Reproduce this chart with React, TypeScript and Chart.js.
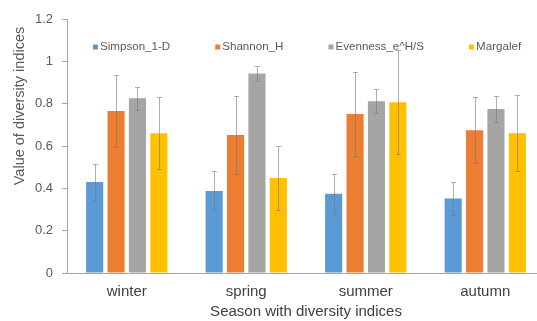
import React, { useEffect, useRef } from "react";
import { Chart, registerables } from "chart.js";

Chart.register(...registerables);

const seasons = ["winter", "spring", "summer", "autumn"];
const seriesNames = ["Simpson_1-D", "Shannon_H", "Evenness_e^H/S", "Margalef"];
const simpson = [0.43, 0.387, 0.375, 0.352];
const simpsonErr = [0.087, 0.093, 0.095, 0.08];
const shannon = [0.765, 0.652, 0.751, 0.675];
const shannonErr = [0.17, 0.184, 0.2, 0.155];
const evenness = [0.826, 0.943, 0.812, 0.775];
const evennessErr = [0.055, 0.037, 0.057, 0.06];
const margalef = [0.66, 0.449, 0.807, 0.66];
const margalefErr = [0.17, 0.153, 0.246, 0.18];
const yTicks = [0, 0.2, 0.4, 0.6, 0.8, 1, 1.2];
const yTickLabels = ["0", "0.2", "0.4", "0.6", "0.8", "1", "1.2"];
const xTitle = "Season with diversity indices";
const yTitle = "Value of diversity indices";
const colors = ["#5B9BD5", "#ED7D31", "#A5A5A5", "#FFC000"];

const FONT = "'Liberation Sans', Arial, sans-serif";

const errorBars = {
  id: "errorBars",
  afterDatasetsDraw(chart: any) {
    const ctx = chart.ctx;
    const y = chart.scales.y;
    chart.data.datasets.forEach((ds: any, i: number) => {
      const meta = chart.getDatasetMeta(i);
      meta.data.forEach((bar: any, j: number) => {
        const v = ds.data[j];
        const e = ds.errors[j];
        const x = Math.round(bar.x) + 0.5;
        const yt = Math.round(y.getPixelForValue(v + e)) + 0.5;
        const yb = Math.round(y.getPixelForValue(v - e)) + 0.5;
        ctx.save();
        ctx.strokeStyle = "rgba(120,120,120,0.6)";
        ctx.lineWidth = 1;
        ctx.beginPath();
        ctx.moveTo(x, yt);
        ctx.lineTo(x, yb);
        ctx.moveTo(x - 2.5, yt);
        ctx.lineTo(x + 2.5, yt);
        ctx.moveTo(x - 2.5, yb);
        ctx.lineTo(x + 2.5, yb);
        ctx.stroke();
        ctx.restore();
      });
    });
  },
};

const decorations = {
  id: "decorations",
  afterDraw(chart: any) {
    const ctx = chart.ctx;
    const area = chart.chartArea;
    ctx.save();
    // legend
    ctx.font = `11.6px ${FONT}`;
    ctx.textBaseline = "middle";
    ctx.textAlign = "left";
    let x = area.left + 26;
    const ly = 47;
    seriesNames.forEach((name, i) => {
      ctx.fillStyle = colors[i];
      ctx.fillRect(x, ly - 2.5, 5, 5);
      ctx.fillStyle = "#595959";
      ctx.fillText(name, x + 7, ly);
      x += 7 + ctx.measureText(name).width + 45;
    });
    // x title
    ctx.font = `15px ${FONT}`;
    ctx.fillStyle = "#404040";
    ctx.textAlign = "center";
    ctx.fillText(xTitle, (area.left + area.right) / 2, 312);
    // y title
    ctx.translate(20, 106);
    ctx.rotate(-Math.PI / 2);
    ctx.font = `14.5px ${FONT}`;
    ctx.fillStyle = "#595959";
    ctx.fillText(yTitle, 0, 0);
    ctx.restore();
  },
};

export default function App() {
  const ref = useRef<HTMLCanvasElement | null>(null);
  useEffect(() => {
    document.body.style.margin = "0";
    document.documentElement.style.overflow = "hidden";
    const canvas = ref.current!;
    const chart = new Chart(canvas, {
      type: "bar",
      data: {
        labels: seasons,
        datasets: [
          { label: seriesNames[0], data: simpson, errors: simpsonErr, backgroundColor: colors[0] } as any,
          { label: seriesNames[1], data: shannon, errors: shannonErr, backgroundColor: colors[1] } as any,
          { label: seriesNames[2], data: evenness, errors: evennessErr, backgroundColor: colors[2] } as any,
          { label: seriesNames[3], data: margalef, errors: margalefErr, backgroundColor: colors[3] } as any,
        ],
      },
      options: {
        responsive: false,
        animation: false,
        devicePixelRatio: 1,
        layout: { padding: { top: 19, left: 0, right: 0, bottom: 0 } },
        datasets: { bar: { categoryPercentage: 0.716, barPercentage: 0.8 } },
        plugins: {
          legend: { display: false },
          tooltip: { enabled: false },
          title: { display: false },
        },
        scales: {
          x: {
            grid: { display: true, drawOnChartArea: false, drawTicks: false },
            border: { display: true, color: "#a6a6a6", width: 1 },
            ticks: { color: "#404040", font: { family: FONT, size: 15 }, padding: 10 },
            afterFit: (s: any) => {
              s.height = 48;
            },
          },
          y: {
            min: 0,
            max: 1.2,
            afterBuildTicks: (s: any) => {
              s.ticks = yTicks.map((v) => ({ value: v }));
            },
            ticks: {
              color: "#595959",
              font: { family: FONT, size: 13 },
              padding: 9,
              callback: (v: any) => {
                const idx = yTicks.findIndex((t) => Math.abs(t - v) < 1e-6);
                return idx >= 0 ? yTickLabels[idx] : "";
              },
            },
            grid: { display: true, drawOnChartArea: false, drawTicks: true, tickLength: 5, color: "#a6a6a6" },
            border: { display: true, color: "#a6a6a6", width: 1 },
            afterFit: (s: any) => {
              s.width = 67;
            },
          },
        },
      } as any,
      plugins: [errorBars, decorations],
    });
    return () => chart.destroy();
  }, []);
  return (
    <div style={{ width: 537, height: 321, overflow: "hidden", position: "relative", background: "#fff" }}>
      <canvas ref={ref} width={545} height={321} style={{ display: "block", width: 545, height: 321 }} />
    </div>
  );
}
